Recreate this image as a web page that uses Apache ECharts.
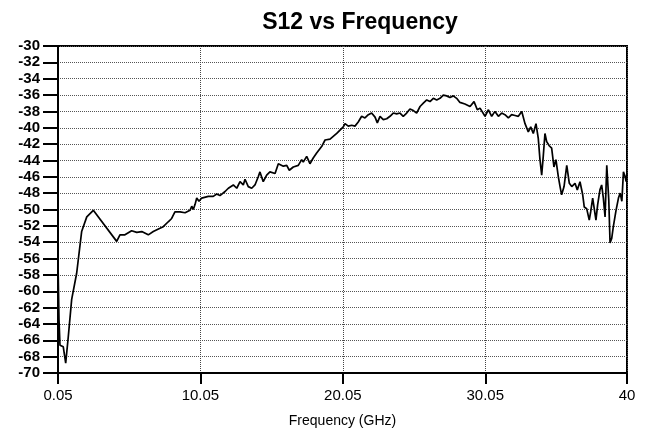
<!DOCTYPE html>
<html lang="en">
<head>
  <meta charset="UTF-8">
  <title>S12 vs Frequency</title>
  <script src="https://cdn.jsdelivr.net/npm/echarts@6/dist/echarts.min.js"></script>
  <style>
    html, body { margin: 0; padding: 0; background: #fff; }
  </style>
</head>
<body>
  <div id="main" style="width:648px; height:434px;"></div>
  <script>
    // frequency (GHz)
    var freq = [
      0.05, 0.12, 0.19, 0.42, 0.59, 0.77, 1.01, 1.36, 1.71, 2.07, 2.53,
      4.17, 4.40, 4.75, 5.22, 5.58, 5.93, 6.39, 6.74, 7.21, 7.44, 7.79,
      8.03, 8.26, 8.62, 8.97, 9.32, 9.44, 9.55, 9.67, 9.79, 9.95, 10.14,
      10.60, 10.95, 11.19, 11.42, 11.78, 12.01, 12.36, 12.60, 12.83, 13.06,
      13.18, 13.41, 13.65, 13.88, 14.11, 14.23, 14.46, 14.70, 14.93, 15.29,
      15.52, 15.87, 16.11, 16.29, 16.57, 16.92, 17.16, 17.27, 17.51, 17.74,
      17.97, 18.21, 18.56, 18.80, 19.15, 19.62, 19.85, 20.08, 20.20, 20.43,
      20.67, 20.90, 21.13, 21.37, 21.60, 21.84, 22.07, 22.31, 22.47, 22.66,
      22.89, 23.13, 23.36, 23.59, 23.83, 24.06, 24.29, 24.53, 24.76, 25.00,
      25.23, 25.47, 25.70, 25.94, 26.17, 26.40, 26.64, 26.87, 27.10, 27.34,
      27.57, 27.80, 28.04, 28.27, 28.62, 28.98, 29.26, 29.49, 29.68, 30.03,
      30.27, 30.50, 30.73, 30.97, 31.20, 31.43, 31.67, 31.90, 32.14, 32.37,
      32.61, 32.84, 33.07, 33.24, 33.42, 33.61, 33.77, 33.89, 34.01, 34.12,
      34.24, 34.36, 34.54, 34.71, 34.87, 35.01, 35.18, 35.30, 35.41, 35.58,
      35.77, 35.95, 36.12, 36.35, 36.51, 36.70, 36.89, 37.00, 37.17, 37.35,
      37.45, 37.59, 37.70, 37.82, 37.94, 38.10, 38.22, 38.34, 38.46, 38.58,
      38.72, 38.81, 38.93, 39.04, 39.23, 39.40, 39.52, 39.64, 39.75, 39.87,
      39.94, 40.00
    ];
    // S12 (dB)
    var s12 = [
      -56.5, -63.5, -66.6, -66.8, -68.8, -65.6, -61.0, -57.8, -52.7, -50.9, -50.1,
      -53.9, -53.1, -53.1, -52.6, -52.8, -52.7, -53.1, -52.7, -52.3, -52.1, -51.5,
      -51.1, -50.3, -50.3, -50.4, -50.1, -49.6, -50.0, -49.4, -48.6, -49.0, -48.6,
      -48.4, -48.4, -48.1, -48.3, -47.8, -47.4, -47.0, -47.4, -46.6, -47.0,
      -46.3, -47.2, -47.4, -47.0, -46.0, -45.4, -46.6, -45.8, -45.4, -45.6,
      -44.4, -44.7, -44.6, -45.2, -44.8, -44.6, -43.9, -44.2, -43.5, -44.4,
      -43.7, -43.1, -42.3, -41.5, -41.4, -40.7, -40.3, -39.9, -39.5, -39.8,
      -39.7, -39.8, -39.3, -38.6, -38.8, -38.4, -38.2, -38.7, -39.4, -38.6,
      -39.0, -38.9, -38.6, -38.2, -38.3, -38.2, -38.6, -38.2, -37.7, -37.9,
      -38.2, -37.4, -37.0, -36.6, -36.8, -36.4, -36.6, -36.4, -36.0, -36.1,
      -36.3, -36.1, -36.4, -36.9, -37.1, -37.4, -36.8, -37.8, -37.6, -38.6,
      -37.8, -38.6, -38.0, -38.6, -38.2, -38.4, -38.8, -38.4, -38.5, -38.6,
      -38.0, -39.5, -40.5, -39.9, -40.7, -39.5, -41.3, -43.9, -45.8, -43.5,
      -40.7, -41.7, -42.2, -42.5, -44.8, -43.9, -46.0, -47.2, -48.2, -47.2,
      -44.6, -46.8, -47.2, -46.8, -47.6, -46.6, -48.2, -49.7, -49.9, -51.3,
      -50.3, -48.6, -49.9, -51.3, -49.4, -47.6, -47.0, -48.6, -50.9, -44.6,
      -48.8, -54.1, -53.5, -52.1, -50.1, -48.6, -48.0, -49.0, -45.4, -46.0,
      -46.6, -45.5
    ];
    var xTicks = [0.05, 10.05, 20.05, 30.05, 40];

    var points = [];
    for (var i = 0; i < freq.length; i++) {
      points.push([freq[i], s12[i]]);
    }

    var chart = echarts.init(document.getElementById('main'));
    var option = {
      backgroundColor: '#fff',
      animation: false,
      title: {
        text: 'S12 vs Frequency',
        left: 355,
        top: 6,
        textAlign: 'center',
        textStyle: { fontFamily: 'Liberation Sans', fontSize: 23, fontWeight: 'bold', color: '#000' }
      },
      grid: {
        left: 58, right: 21, top: 46, bottom: 61,
        show: true, borderColor: '#000', borderWidth: 2
      },
      xAxis: {
        type: 'value',
        min: 0.05,
        max: 40,
        name: 'Frequency (GHz)',
        nameLocation: 'middle',
        nameGap: 41,
        nameTextStyle: { fontFamily: 'Liberation Sans', fontSize: 14, color: '#000' },
        axisLine: { lineStyle: { color: '#000', width: 2 } },
        axisTick: { customValues: xTicks, length: 11, lineStyle: { color: '#000', width: 2 } },
        axisLabel: {
          customValues: xTicks,
          margin: 15,
          fontFamily: 'Liberation Sans', fontSize: 15, color: '#000',
          formatter: function (v) { return String(v); }
        },
        splitLine: { show: true, lineStyle: { color: '#444', type: 'dotted', width: 1 } }
      },
      yAxis: {
        type: 'value',
        min: -70,
        max: -30,
        interval: 2,
        axisLine: { onZero: false, lineStyle: { color: '#000', width: 2 } },
        axisTick: { length: 15, lineStyle: { color: '#000', width: 2 } },
        axisLabel: { margin: 18, fontFamily: 'Liberation Sans', fontSize: 15, fontWeight: 'bold', color: '#000' },
        splitLine: { show: true, lineStyle: { color: '#555', type: 'dotted', width: 1 } }
      },
      series: [{
        type: 'line',
        data: points,
        showSymbol: false,
        lineStyle: { color: '#000', width: 1.7 }
      }]
    };
    chart.setOption(option);
  </script>
</body>
</html>
